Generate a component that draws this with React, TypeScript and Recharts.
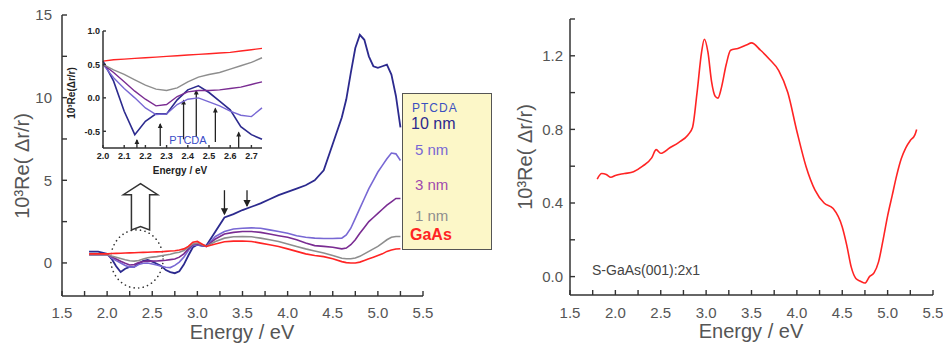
import React from 'react';
import { LineChart, Line, XAxis, YAxis, ReferenceLine, ReferenceArea } from 'recharts';

const FONT = '"Liberation Sans", Arial, sans-serif';
const AXIS = '#333';
const TEXT = '#555';

// left panel: PTCDA on GaAs(001), energies in eV, values are 10^3 Re(dr/r)
const energy = [
  1.8, 1.9, 2.0, 2.05, 2.1, 2.15, 2.2, 2.25, 2.3, 2.35,
  2.4, 2.45, 2.5, 2.55, 2.6, 2.65, 2.7, 2.75, 2.8, 2.85,
  2.9, 2.95, 3.0, 3.05, 3.1, 3.2, 3.3, 3.4, 3.5, 3.6,
  3.7, 3.8, 3.9, 4.0, 4.1, 4.2, 4.3, 4.4, 4.5, 4.6,
  4.65, 4.7, 4.75, 4.8, 4.85, 4.9, 4.95, 5.0, 5.05, 5.1,
  5.15, 5.2, 5.25,
];
const gaas = [
  0.55, 0.55, 0.55, 0.57, 0.58, 0.59, 0.6, 0.61, 0.62, 0.63,
  0.64, 0.65, 0.66, 0.67, 0.68, 0.7, 0.72, 0.74, 0.78, 0.85,
  1.0, 1.25, 1.3, 1.15, 1.0, 1.15, 1.28, 1.32, 1.33, 1.3,
  1.2, 1.1, 1.0, 0.85, 0.7, 0.55, 0.45, 0.38, 0.25, 0.08,
  0.02, 0.0, 0.0, 0.05, 0.15, 0.25, 0.35, 0.45, 0.55, 0.7,
  0.78, 0.84, 0.86,
];
const nm1 = [
  0.5, 0.5, 0.5, 0.42, 0.35, 0.27, 0.19, 0.13, 0.11, 0.15,
  0.24, 0.31, 0.35, 0.38, 0.43, 0.48, 0.53, 0.6, 0.65, 0.75,
  0.95, 1.15, 1.2, 1.1, 1.0, 1.3, 1.5, 1.58, 1.6, 1.58,
  1.5, 1.4, 1.3, 1.15, 1.0, 0.85, 0.72, 0.6, 0.45, 0.28,
  0.25, 0.25, 0.3, 0.4, 0.55, 0.7, 0.85, 1.0, 1.2, 1.4,
  1.55, 1.6, 1.6,
];
const nm3 = [
  0.5, 0.5, 0.5, 0.38, 0.24, 0.1, -0.02, -0.12, -0.1, 0.02,
  0.09, 0.11, 0.11, 0.12, 0.14, 0.16, 0.2, 0.24, 0.35, 0.55,
  0.85, 1.1, 1.15, 1.05, 1.0, 1.45, 1.75, 1.85, 1.9, 1.9,
  1.85, 1.75, 1.65, 1.55, 1.4, 1.2, 1.05, 1.0, 0.95, 0.85,
  0.9, 1.1, 1.4, 1.8, 2.15, 2.5, 2.75, 3.0, 3.25, 3.5,
  3.7, 3.9, 3.9,
];
const nm5 = [
  0.5, 0.5, 0.5, 0.3, 0.14, 0.0, -0.15, -0.25, -0.24, -0.1,
  -0.02, 0.0, -0.06, -0.12, -0.2, -0.26, -0.28, -0.15, 0.05, 0.35,
  0.75, 1.05, 1.1, 1.02, 1.0, 1.6, 1.9, 2.05, 2.1, 2.12,
  2.1, 2.0, 1.9, 1.8, 1.65, 1.55, 1.5, 1.48, 1.48, 1.5,
  1.7, 2.1, 2.7, 3.3, 3.9, 4.5, 5.0, 5.5, 5.9, 6.3,
  6.65, 6.6, 6.2,
];
const nm10 = [
  0.68, 0.68, 0.55, 0.25, -0.2, -0.55, -0.35, -0.24, -0.24, -0.03,
  0.12, 0.18, 0.08, -0.05, -0.18, -0.43, -0.55, -0.62, -0.5, -0.1,
  0.45, 0.95, 1.1, 1.05, 1.05, 1.9, 2.75, 2.95, 3.2, 3.4,
  3.6, 3.85, 4.1, 4.3, 4.5, 4.7, 5.0, 5.6, 7.2, 8.8,
  9.9, 11.5, 13.0, 13.8, 13.5, 12.5, 11.9, 11.8, 11.9, 12.0,
  11.4, 10.1, 8.2,
];

const mainXTicks = [1.5, 1.75, 2, 2.25, 2.5, 2.75, 3, 3.25, 3.5, 3.75, 4, 4.25, 4.5, 4.75, 5, 5.25, 5.5];
const mainXLabels = [1.5, 2, 2.5, 3, 3.5, 4, 4.5, 5, 5.5];
const mainYTicks = [0, 2.5, 5, 7.5, 10, 12.5, 15];
const mainYLabels = [0, 5, 10, 15];

// marked transitions: main plot (pointing down) and inset (pointing up)
const mainArrowE = [3.3, 3.55];
const mainArrowFrom = [4.4, 4.4];
const mainArrowTo = [2.95, 3.45];
const insetArrowE = [2.16, 2.27, 2.38, 2.44, 2.53, 2.64];
const insetArrowFrom = [-0.75, -0.72, -0.62, -0.58, -0.66, -0.75];
const insetArrowTo = [-0.63, -0.39, -0.04, 0.11, -0.16, -0.52];

const insetXTicks = [2.0, 2.1, 2.2, 2.3, 2.4, 2.5, 2.6, 2.7];
const insetYTicks = [-0.5, 0, 0.5, 1.0];

// right panel: clean S-GaAs(001):2x1
const rightEnergy = [
  1.8, 1.85, 1.9, 1.95, 2.0, 2.1, 2.2, 2.3, 2.4, 2.45,
  2.5, 2.6, 2.7, 2.8, 2.85, 2.9, 2.95, 2.98, 3.02, 3.06,
  3.1, 3.13, 3.17, 3.22, 3.27, 3.35, 3.45, 3.5, 3.6, 3.7,
  3.8, 3.9, 4.0, 4.1, 4.2, 4.3, 4.4, 4.5, 4.55, 4.6,
  4.65, 4.7, 4.75, 4.8, 4.85, 4.9, 4.95, 5.0, 5.05, 5.1,
  5.15, 5.2, 5.25, 5.3, 5.32,
];
const rightValues = [
  0.53, 0.56, 0.555, 0.54, 0.55, 0.56, 0.57, 0.6, 0.645, 0.69,
  0.67, 0.7, 0.73, 0.77, 0.81, 1.0, 1.22, 1.29, 1.22, 1.06,
  0.98, 0.97, 1.03, 1.15, 1.23, 1.24, 1.26, 1.27, 1.23, 1.18,
  1.12, 1.0, 0.79, 0.6, 0.47, 0.4, 0.37, 0.27, 0.17, 0.05,
  -0.01, -0.025, -0.035, 0.0, 0.02, 0.08, 0.2, 0.33, 0.44, 0.55,
  0.64, 0.7, 0.74, 0.77, 0.8,
];
const rightYTicks = [0, 0.2, 0.4, 0.6, 0.8, 1.0, 1.2, 1.4];
const rightYLabels = [0, 0.4, 0.8, 1.2];

const COLORS = { gaas: '#ff2424', nm1: '#8e8e8e', nm3: '#7a2c92', nm5: '#7868d4', nm10: '#2c2a8e' };

const mainRows = energy.map((e, i) => ({ e, gaas: gaas[i], nm1: nm1[i], nm3: nm3[i], nm5: nm5[i], nm10: nm10[i] }));
const insetRows = mainRows.filter((r) => r.e >= 2.0 && r.e <= 2.75);
const rightRows = rightEnergy.map((e, i) => ({ e, v: rightValues[i] }));

const f1 = (v: number) => v.toFixed(1);
const axisStyle = { stroke: AXIS, strokeWidth: 1.5 };
const tickStyle = { stroke: AXIS, strokeWidth: 1.4 };
const TS = 5; // inward tick length (negative tickSize)

type LabelOpts = {
  side: 'bottom' | 'left';
  labels: number[];
  fmt: (v: number) => string;
  size: number;
  gap: number;
  ts: number;
  weight?: number;
  color?: string;
};

// tick labels only for the major values; tick lines come from recharts (inward)
const makeLabel = (o: LabelOpts) => (p: any) => {
  const v = p.payload.value;
  if (!o.labels.some((l) => Math.abs(l - v) < 1e-6)) return <g />;
  const common = { fontSize: o.size, fontFamily: FONT, fill: o.color ?? TEXT, fontWeight: o.weight ?? 400 };
  if (o.side === 'bottom') {
    const axisY = Number(p.y) + o.ts;
    return <text x={p.x} y={axisY + o.gap} textAnchor="middle" {...common}>{o.fmt(v)}</text>;
  }
  const axisX = Number(p.x) - o.ts;
  return <text x={axisX - o.gap} y={Number(p.y) + o.size * 0.36} textAnchor="end" {...common}>{o.fmt(v)}</text>;
};

const arrowShape = (head: number) => (p: any) => {
  const { x1, y1, x2, y2 } = p;
  const dir = y2 > y1 ? 1 : -1;
  return (
    <g>
      <line x1={x1} y1={y1} x2={x2} y2={y2} stroke="#222" strokeWidth={1.3} />
      <polygon
        points={`${x2 - head * 0.6},${y2 - dir * head} ${x2 + head * 0.6},${y2 - dir * head} ${x2},${y2 + dir * 1}`}
        fill="#222"
      />
    </g>
  );
};

const HollowArrow = (p: any) => {
  const { x, y, width: w, height: h } = p;
  const cx = x + w / 2;
  const head = h * 0.24;
  const sw = w * 0.53;
  const notch = h * 0.07;
  const pts = [
    [cx, y], [x + w, y + head], [cx + sw / 2, y + head], [cx + sw / 2, y + h],
    [cx, y + h - notch], [cx - sw / 2, y + h], [cx - sw / 2, y + head], [x, y + head],
  ];
  return <polygon points={pts.map((q) => q.join(',')).join(' ')} fill="#fff" stroke="#333" strokeWidth={1.5} />;
};

const DottedEllipse = (p: any) => (
  <ellipse
    cx={p.x + p.width / 2}
    cy={p.y + p.height / 2}
    rx={p.width / 2}
    ry={p.height / 2}
    fill="none"
    stroke="#333"
    strokeWidth={1.6}
    strokeDasharray="0.1 4.5"
    strokeLinecap="round"
  />
);

const tickAxis = { tickSize: -TS, tickMargin: 0, tickLine: tickStyle, axisLine: axisStyle, interval: 0 as const };

function MainChart() {
  return (
    <LineChart width={500} height={347} data={mainRows} margin={{ top: 15, right: 77, bottom: 6, left: 12 }}>
      <XAxis dataKey="e" type="number" domain={[1.5, 5.5]} ticks={mainXTicks} height={45} {...tickAxis}
        tick={makeLabel({ side: 'bottom', labels: mainXLabels, fmt: f1, size: 15, gap: 22, ts: TS })} />
      <XAxis xAxisId="top" orientation="top" type="number" domain={[1.5, 5.5]} ticks={mainXTicks} height={0}
        {...tickAxis} tick={false} />
      <YAxis type="number" domain={[-2, 15]} ticks={mainYTicks} width={50} {...tickAxis}
        tick={makeLabel({ side: 'left', labels: mainYLabels, fmt: (v) => String(v), size: 15, gap: 10, ts: TS })} />
      <YAxis yAxisId="right" orientation="right" type="number" domain={[-2, 15]} ticks={mainYTicks} width={0}
        {...tickAxis} tick={false} />
      <ReferenceArea x1={2.04} x2={2.62} y1={-1.52} y2={2.0} shape={DottedEllipse} />
      <ReferenceArea x1={2.18} x2={2.56} y1={2.0} y2={4.8} shape={HollowArrow} />
      {mainArrowE.map((e, i) => (
        <ReferenceLine key={e} segment={[{ x: e, y: mainArrowFrom[i] }, { x: e, y: mainArrowTo[i] }]}
          shape={arrowShape(6)} />
      ))}
      <Line dataKey="nm10" stroke={COLORS.nm10} strokeWidth={1.8} dot={false} isAnimationActive={false} />
      <Line dataKey="nm5" stroke={COLORS.nm5} strokeWidth={1.6} dot={false} isAnimationActive={false} />
      <Line dataKey="nm3" stroke={COLORS.nm3} strokeWidth={1.6} dot={false} isAnimationActive={false} />
      <Line dataKey="nm1" stroke={COLORS.nm1} strokeWidth={1.6} dot={false} isAnimationActive={false} />
      <Line dataKey="gaas" stroke={COLORS.gaas} strokeWidth={1.6} dot={false} isAnimationActive={false} />
    </LineChart>
  );
}

function InsetChart() {
  const small = { ...tickAxis, tickSize: -3 };
  return (
    <LineChart width={204} height={152} data={insetRows} margin={{ top: 9, right: 6, bottom: 6, left: 13 }}>
      <XAxis dataKey="e" type="number" domain={[2.0, 2.75]} ticks={insetXTicks} height={20} {...small}
        tick={makeLabel({ side: 'bottom', labels: insetXTicks, fmt: f1, size: 9, gap: 11, ts: 3, weight: 700, color: '#222' })} />
      <XAxis xAxisId="top" orientation="top" type="number" domain={[2.0, 2.75]} height={0} tick={false}
        tickLine={false} axisLine={axisStyle} />
      <YAxis type="number" domain={[-0.75, 1.0]} ticks={insetYTicks} width={26} {...small}
        tick={makeLabel({ side: 'left', labels: insetYTicks, fmt: f1, size: 9, gap: 3, ts: 3, weight: 700, color: '#222' })} />
      <YAxis yAxisId="right" orientation="right" type="number" domain={[-0.75, 1.0]} width={0} tick={false}
        tickLine={false} axisLine={axisStyle} />
      {insetArrowE.map((e, i) => (
        <ReferenceLine key={e} segment={[{ x: e, y: insetArrowFrom[i] }, { x: e, y: insetArrowTo[i] }]}
          shape={arrowShape(4)} />
      ))}
      <Line dataKey="nm10" stroke={COLORS.nm10} strokeWidth={1.6} dot={false} isAnimationActive={false} />
      <Line dataKey="nm5" stroke={COLORS.nm5} strokeWidth={1.4} dot={false} isAnimationActive={false} />
      <Line dataKey="nm3" stroke={COLORS.nm3} strokeWidth={1.4} dot={false} isAnimationActive={false} />
      <Line dataKey="nm1" stroke={COLORS.nm1} strokeWidth={1.4} dot={false} isAnimationActive={false} />
      <Line dataKey="gaas" stroke={COLORS.gaas} strokeWidth={1.4} dot={false} isAnimationActive={false} />
    </LineChart>
  );
}

function RightChart() {
  return (
    <LineChart width={443} height={347} data={rightRows} margin={{ top: 19, right: 10, bottom: 6, left: 30 }}>
      <XAxis dataKey="e" type="number" domain={[1.5, 5.5]} ticks={mainXTicks} height={46} {...tickAxis}
        tick={makeLabel({ side: 'bottom', labels: mainXLabels, fmt: f1, size: 15, gap: 23, ts: TS })} />
      <XAxis xAxisId="top" orientation="top" type="number" domain={[1.5, 5.5]} ticks={mainXTicks} height={0}
        {...tickAxis} tick={false} />
      <YAxis type="number" domain={[-0.1, 1.4]} ticks={rightYTicks} width={40} {...tickAxis}
        tick={makeLabel({ side: 'left', labels: rightYLabels, fmt: f1, size: 15, gap: 7, ts: TS })} />
      <YAxis yAxisId="right" orientation="right" type="number" domain={[-0.1, 1.4]} ticks={rightYTicks} width={0}
        {...tickAxis} tick={false} />
      <Line dataKey="v" type="monotone" stroke="#ff2424" strokeWidth={1.6} dot={false} isAnimationActive={false} />
    </LineChart>
  );
}

const abs = (left: number, top: number, extra: React.CSSProperties = {}): React.CSSProperties => ({
  position: 'absolute', left, top, whiteSpace: 'nowrap', lineHeight: 1, ...extra,
});
const centered = (cx: number, cy: number, size: number, extra: React.CSSProperties = {}, rotate = false) =>
  abs(cx, cy, {
    fontSize: size,
    transform: `translate(-50%, -50%)${rotate ? ' rotate(-90deg)' : ''}`,
    ...extra,
  });

export default function App() {
  return (
    <div style={{ position: 'fixed', left: 0, top: 0, width: 943, height: 347, background: '#fff', overflow: 'hidden', fontFamily: FONT, color: TEXT }}>
      <div style={abs(0, 0)}><MainChart /></div>
      <div style={abs(64, 22)}><InsetChart /></div>
      <div style={abs(500, 0)}><RightChart /></div>

      {/* axis titles */}
      <div style={centered(22, 166, 20, {}, true)}>10³Re( Δr/r)</div>
      <div style={centered(242, 332, 20)}>Energy / eV</div>
      <div style={centered(525, 157, 20, {}, true)}>10³Re( Δr/r)</div>
      <div style={centered(751, 331, 20)}>Energy / eV</div>
      <div style={centered(72, 93, 10, { color: '#222', fontWeight: 700 }, true)}>10³Re(Δr/r)</div>
      <div style={centered(180, 171, 10, { color: '#222', fontWeight: 700 })}>Energy / eV</div>
      <div style={centered(188, 140, 11, { color: '#3a4cc8' })}>PTCDA</div>
      <div style={abs(592, 263, { fontSize: 14, color: '#444' })}>S-GaAs(001):2x1</div>

      {/* legend */}
      <div style={abs(402, 93, { width: 90, height: 157, background: '#fcf7c8', border: '1px solid #555', boxSizing: 'border-box' })} />
      <div style={abs(412, 102, { fontSize: 12, letterSpacing: 1, color: '#3a50c0' })}>PTCDA</div>
      <div style={abs(411, 116, { fontSize: 16, color: COLORS.nm10 })}>10 nm</div>
      <div style={abs(415, 142, { fontSize: 15, color: COLORS.nm5 })}>5 nm</div>
      <div style={abs(415, 177, { fontSize: 15, color: '#a04aae' })}>3 nm</div>
      <div style={abs(415, 208, { fontSize: 15, color: '#8e8e8e' })}>1 nm</div>
      <div style={abs(410, 227, { fontSize: 16, color: '#ff2424', fontWeight: 700 })}>GaAs</div>
    </div>
  );
}
